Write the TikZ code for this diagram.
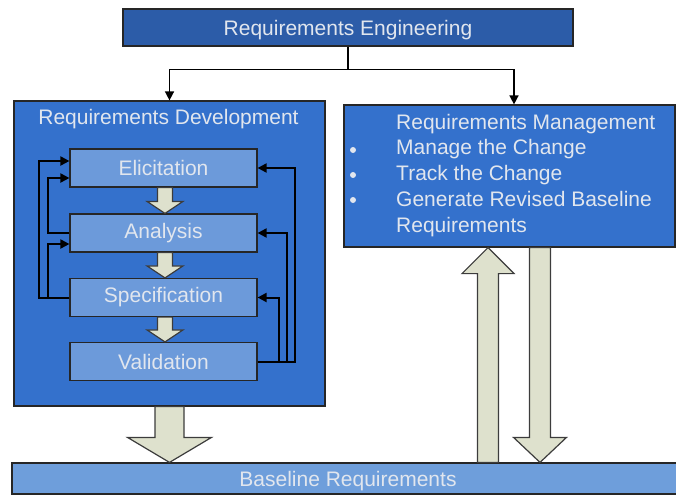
\documentclass[tikz,border=0pt]{standalone}
\usepackage{fontspec}
\setmainfont{Liberation Sans}
\usetikzlibrary{arrows.meta,calc}

\definecolor{engblue}{RGB}{44,92,168}
\definecolor{boxblue}{RGB}{52,113,204}
\definecolor{stepblue}{RGB}{108,154,218}
\definecolor{baseblue}{RGB}{110,158,219}
\definecolor{paletext}{RGB}{225,230,238}
\definecolor{arrowfill}{RGB}{222,225,205}
\definecolor{arrowline}{RGB}{60,60,60}

\tikzset{
  labeltext/.style={text=paletext, font=\fontsize{21}{26}\selectfont, inner sep=0},
  bigbox/.style={draw=black!85, line width=1.2, fill=boxblue},
  stepbox/.style={labeltext, draw=black!85, line width=1.2, fill=stepblue, minimum width=187, minimum height=38},
  conn/.style={draw=black, line width=1.5, -{Triangle[length=9pt,width=9pt]}},
  feedback/.style={draw=black, line width=2, -{Triangle[length=9pt,width=9pt]}},
  fatarr/.style={fill=arrowfill, draw=arrowline, line width=1.2, line join=miter},
}

% block arrow: tail, tip, half shaft width, half head width, head length
\newcommand{\fatarrow}[5]{%
  \draw[fatarr] let \p1=#1, \p2=#2, \n1={sign(\y1-\y2)} in
    (\x1-#3,\y1) -- (\x1+#3,\y1) -- (\x1+#3,\y2+\n1*#5) -- (\x1+#4,\y2+\n1*#5)
    -- (\x1,\y2) -- (\x1-#4,\y2+\n1*#5) -- (\x1-#3,\y2+\n1*#5) -- cycle;}

\begin{document}
\begin{tikzpicture}[x=1pt,y=-1pt]
\useasboundingbox (0,0) rectangle (676,495);

%Shape: Rectangle top
\node[labeltext, text depth=0, draw=black!85, line width=1.2, fill=engblue, minimum width=450, minimum height=37] (reqeng) at (348,27.5) {Requirements Engineering};

%Shape: Rectangle development
\node[bigbox, minimum width=311, minimum height=305] (reqdev) at (169.5,253.5) {};
\node[labeltext, anchor=base] (devtitle) at (168.5,124.5) {Requirements Development};

%Shape: Rectangle management
\node[bigbox, minimum width=331, minimum height=142] (reqmgmt) at (509.5,176) {};
\node[labeltext, anchor=base west] (mgmttitle) at (396,129) {Requirements Management};
\node[labeltext, anchor=base west] (mgmtone) at (396,154.5) {Manage the Change};
\node[labeltext, anchor=base west] (mgmttwo) at (396,180.5) {Track the Change};
\node[labeltext, anchor=base west] (mgmtthree) at (396,206) {Generate Revised Baseline};
\node[labeltext, anchor=base west] (mgmtfour) at (396,232) {Requirements};
\foreach \y in {150,175,200}
  \fill[paletext] (353,\y) circle (3);

%Shape: Rectangle baseline
\node[labeltext, text depth=0, draw=black!85, line width=1.2, fill=baseblue, minimum width=672, minimum height=31] (baseline) at (348,478.5) {Baseline Requirements};

%Steps
\node[stepbox] (elic) at (163.5,168) {Elicitation};
\node[stepbox] (anal) at (163.5,233) {Analysis};
\node[stepbox] (spec) at (163.5,297.5) {Specification};
\node[stepbox] (val) at (163.5,361.5) {Validation};

%Connectors from the top
\coordinate (split) at ($(reqeng.south)+(0,23)$);
\draw[conn] (reqeng.south) -- (split) -| (reqdev.north);
\draw[conn] (split) -| ([xshift=4.5pt]reqmgmt.north);

%Block arrows between steps
\foreach \a/\b in {elic/anal, anal/spec, spec/val}{
  \fatarrow{([xshift=1.5pt]\a.south)}{([xshift=1.5pt]\b.north)}{7.5}{18}{12}
}

%Block arrows to the baseline
\coordinate (upx) at (488,0);
\coordinate (downx) at (540,0);
\fatarrow{(reqdev.south)}{(reqdev.south |- baseline.north)}{14.5}{42}{25}
\fatarrow{(upx |- baseline.north)}{(upx |- reqmgmt.south)}{10.5}{26}{26}
\fatarrow{(downx |- reqmgmt.south)}{(downx |- baseline.north)}{10.5}{26.5}{25}

%Feedback on the left
\draw[feedback] (spec.west) -- ++(-30,0) |- ([yshift=7pt]elic.west);
\draw[feedback] (anal.west) -- ++(-21,0) |- ([yshift=-10pt]elic.west);
\draw[feedback] (spec.west) -- ++(-21,0) |- ([yshift=-11pt]anal.west);

%Feedback on the right
\draw[feedback] (val.east) -- ++(37,0) |- (elic.east);
\draw[feedback] (val.east) -- ++(29,0) |- (anal.east);
\draw[feedback] (val.east) -- ++(21,0) |- (spec.east);

\end{tikzpicture}
\end{document}
